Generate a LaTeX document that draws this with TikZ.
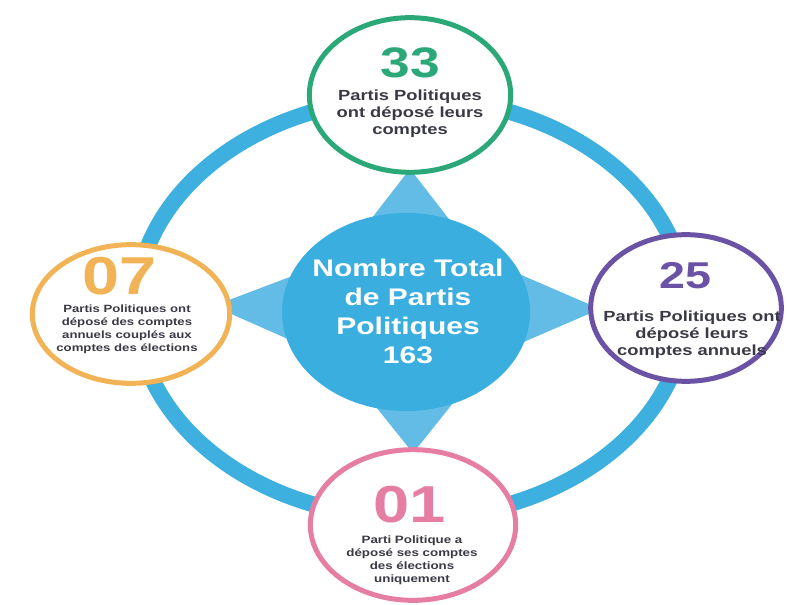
\documentclass[tikz,border=0pt]{standalone}
\usepackage{fontspec}
\setmainfont{Liberation Sans}[FakeStretch=1.25]
\usepackage{xcolor}
\usetikzlibrary{shapes.geometric, calc, backgrounds}

\definecolor{ringblue}{HTML}{3DB0E0}
\definecolor{spikeblue}{HTML}{62BCE6}
\definecolor{coreblue}{HTML}{3BAEE0}
\definecolor{statgreen}{HTML}{2BA877}
\definecolor{statorange}{HTML}{F1B355}
\definecolor{statpurple}{HTML}{6A53A4}
\definecolor{statpink}{HTML}{E67EA3}
\definecolor{textgray}{HTML}{3A3A46}

\begin{document}
\begin{tikzpicture}[
    x=0.75pt, y=-0.75pt,
    ring/.style={draw=ringblue, line width=12pt},
    spike/.style={fill=spikeblue},
    core/.style={ellipse, fill=coreblue, minimum width=186pt, minimum height=148.5pt},
    stat/.style={ellipse, draw=#1, fill=white, line width=3.75pt, inner sep=0pt},
    num/.style={inner sep=0pt, font=\bfseries\fontsize{#1}{#1}\selectfont},
    capbig/.style={inner sep=0pt, align=center, text=textgray, font=\bfseries\fontsize{11}{12.75}\selectfont},
    capsmall/.style={inner sep=0pt, align=center, text=textgray, font=\bfseries\fontsize{7.9}{9.75}\selectfont},
  ]
  \useasboundingbox (0,0) rectangle (787,605);
  % the four results round the total
  \node[core] (total) at (406,312) {};
  \node[stat=statgreen, minimum width=151pt, minimum height=116pt] (deposes) at (410,95) {};
  \node[stat=statorange, minimum width=148pt, minimum height=104pt] (couples) at (131,314) {};
  \node[stat=statpurple, minimum width=143pt, minimum height=110pt] (annuels) at (686,308) {};
  \node[stat=statpink, minimum width=154pt, minimum height=113pt] (elections) at (413,525) {};
  \begin{scope}[on background layer]
    \draw[ring] (411,308) ellipse [x radius=275, y radius=210];
    \fill[spike] ($(deposes.south)+(0,-6)$) -- ++(-62,80) -- ++(124,0) -- cycle;
    \fill[spike] ($(elections.north)+(0,6)$) -- ++(-60,-75) -- ++(120,0) -- cycle;
    \fill[spike] ($(couples.east)+(-19,-8)$) -- ++(95,-36) -- ++(0,78) -- cycle;
    \fill[spike] ($(annuels.west)+(12,1)$) -- ++(-95,-41) -- ++(0,82) -- cycle;
  \end{scope}
  \node[align=center, text=white, font=\bfseries\fontsize{18}{21.75}\selectfont] (totaltxt) at ($(total)+(2,-1)$) {Nombre Total\\de Partis\\Politiques\\163};
  % numbers and captions
  \node[num=32, text=statgreen] (n33) at ($(deposes)+(0,-32)$) {33};
  \node[capbig] (t33) at ($(deposes)+(0,19)$) {Partis Politiques\\ont déposé leurs\\comptes};
  \node[num=40, text=statorange] (n07) at ($(couples)+(-11,-38)$) {07};
  \node[capsmall] (t07) at ($(couples)+(-4,15)$) {Partis Politiques ont\\déposé des comptes\\annuels couplés aux\\comptes des élections};
  \node[num=28, text=statpurple] (n25) at ($(annuels)+(-1,-32)$) {25};
  \node[capbig] (t25) at ($(annuels)+(6,27)$) {Partis Politiques ont\\déposé leurs\\comptes annuels};
  \node[num=39, text=statpink] (n01) at ($(elections)+(-3,-20)$) {01};
  \node[capsmall, font=\bfseries\fontsize{8}{9.75}\selectfont] (t01) at ($(elections)+(-1,35)$) {Parti Politique a\\déposé ses comptes\\des élections\\uniquement};
\end{tikzpicture}
\end{document}
